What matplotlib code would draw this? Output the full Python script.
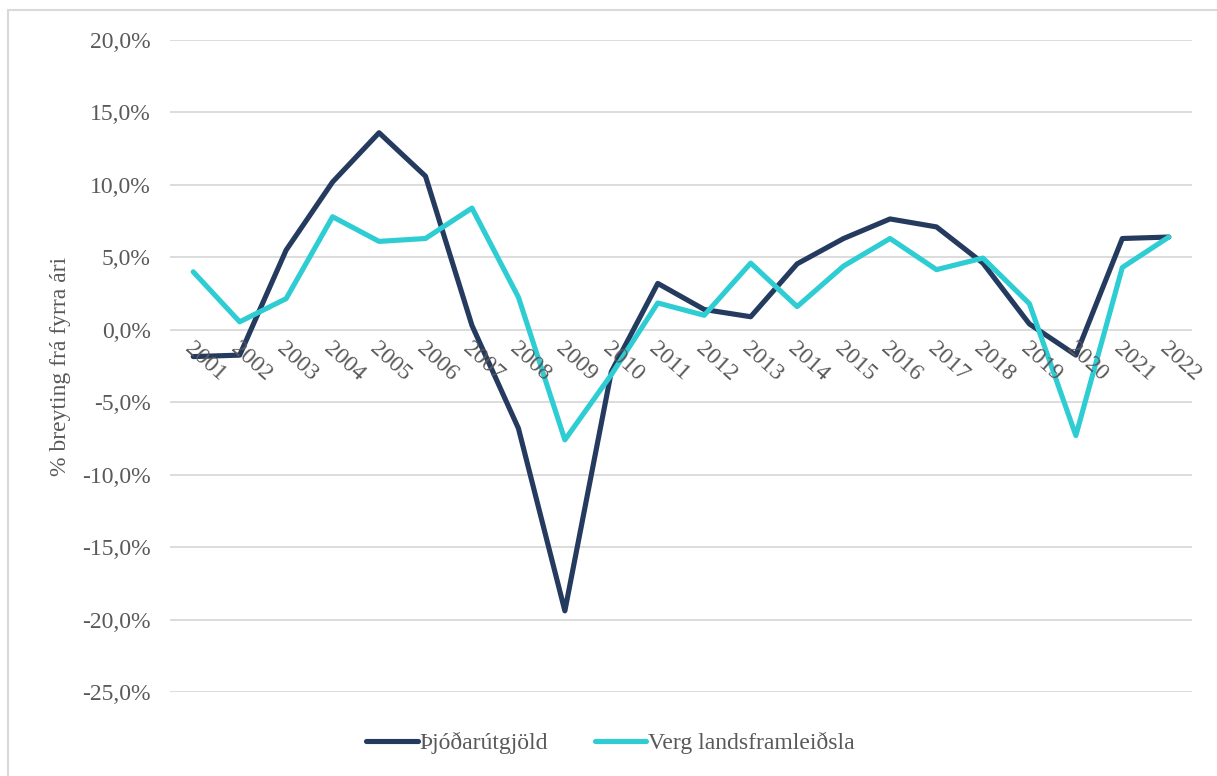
import matplotlib

matplotlib.use("Agg")
import matplotlib.pyplot as plt
from matplotlib.lines import Line2D
from matplotlib.ticker import FuncFormatter

YEARS = [str(y) for y in range(2001, 2023)]
THJODARUTGJOLD = [-1.85, -1.75, 5.5, 10.2, 13.6, 10.6, 0.3, -6.8, -19.4, -2.9, 3.2,
                  1.4, 0.9, 4.55, 6.3, 7.65, 7.1, 4.6, 0.4, -1.75, 6.3, 6.4]
VERG_LANDSFRAMLEIDSLA = [4.0, 0.55, 2.15, 7.8, 6.1, 6.3, 8.4, 2.25, -7.6, -3.1, 1.85,
                         1.0, 4.6, 1.6, 4.4, 6.3, 4.15, 4.95, 1.8, -7.3, 4.3, 6.4]
Y_TICKS = [20, 15, 10, 5, 0, -5, -10, -15, -20, -25]

DARK = "#243a5e"
CYAN = "#2ecdd3"
TEXT = "#595959"
GRID = "#d9d9d9"
FS = 17
LW = 3.7

plt.rcParams["font.family"] = ["Liberation Serif", "DejaVu Serif"]

W, H = 1217, 776
fig = plt.figure(figsize=(W / 100, H / 100), dpi=100)
ax = fig.add_axes([170 / W, 1 - 692 / H, (1192 - 170) / W, (692 - 40) / H])

x = list(range(len(YEARS)))
ax.plot(x, THJODARUTGJOLD, color=DARK, linewidth=LW, solid_capstyle="round", zorder=3)
ax.plot(x, VERG_LANDSFRAMLEIDSLA, color=CYAN, linewidth=LW, solid_capstyle="round", zorder=3)

ax.set_xlim(-0.5, len(YEARS) - 0.5)
ax.set_ylim(min(Y_TICKS), max(Y_TICKS))
ax.set_yticks(Y_TICKS)
ax.yaxis.set_major_formatter(FuncFormatter(lambda v, _: f"{v:.1f}%".replace(".", ",")))
ax.tick_params(axis="y", length=0, pad=14, labelsize=FS, labelcolor=TEXT)
ax.set_xticks([])
ax.grid(axis="y", color=GRID, linewidth=1.3)
ax.set_axisbelow(True)
for s in ax.spines.values():
    s.set_visible(False)

# year labels sit on the zero line, rotated down to the right
for i, yr in enumerate(YEARS):
    ax.annotate(yr, xy=(i, 0), xytext=(-6, -16), textcoords="offset pixels",
                rotation=-42, rotation_mode="anchor", ha="left", va="center",
                fontsize=FS, color=TEXT, zorder=4)

ax.set_ylabel("% breyting frá fyrra ári", fontsize=FS, color=TEXT, labelpad=8)

handles = [Line2D([], [], color=DARK, linewidth=LW, solid_capstyle="round"),
           Line2D([], [], color=CYAN, linewidth=LW, solid_capstyle="round")]
fig.legend(handles, ["Þjóðarútgjöld", "Verg landsframleiðsla"], loc="center",
           bbox_to_anchor=(610 / W, 1 - 743 / H), ncol=2, frameon=False,
           fontsize=FS, labelcolor=TEXT, handlelength=2.2, handletextpad=0.05,
           columnspacing=2.0)

# light frame around the chart
fig.add_artist(Line2D([8 / W, 8 / W], [0, 1 - 10 / H], transform=fig.transFigure,
                      color=GRID, linewidth=1.5))
fig.add_artist(Line2D([8 / W, 1], [1 - 10 / H, 1 - 10 / H], transform=fig.transFigure,
                      color=GRID, linewidth=1.5))

fig.savefig("out.png", dpi=100, facecolor="white")
